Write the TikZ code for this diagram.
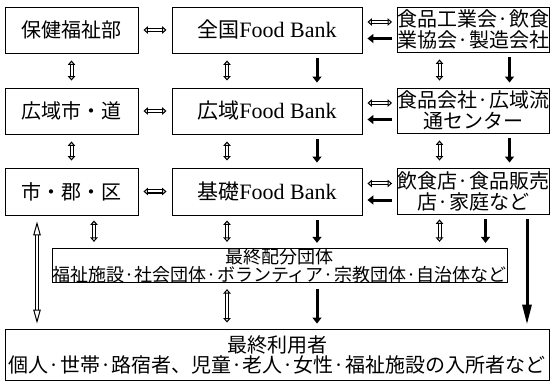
\documentclass[tikz,border=0pt]{standalone}
\usepackage{fontspec}
\setmainfont{Liberation Serif}
\newfontfamily\cjk{Noto Sans CJK JP}
\usetikzlibrary{arrows.meta,calc}
\tikzset{
  box/.style={draw, line width=0.9pt, inner sep=0pt, align=center,
    font=\cjk\fontsize{20}{21}\selectfont},
  fb/.style={font=\cjk\fontsize{21}{21}\selectfont},
  harrow/.style={double, double distance=2pt, line width=1pt,
    {Triangle[open,length=4.5pt,width=7.5pt,line width=1pt]}-{Triangle[open,length=4.5pt,width=7.5pt,line width=1pt]}},
  longharrow/.style={double, double distance=2pt, line width=1pt,
    {Triangle[open,length=14pt,width=7.5pt,line width=1pt]}-{Triangle[open,length=14pt,width=7.5pt,line width=1pt]}},
  barrow/.style={line width=3pt, -{Triangle[length=6pt,width=9pt]}},
  longbarrow/.style={line width=3pt, -{Triangle[length=20pt,width=9pt]}}
}
\begin{document}
\begin{tikzpicture}[x=1pt,y=-1pt]
\useasboundingbox (0,0) rectangle (551,382);
% row 1
\node[box, minimum width=133pt, minimum height=46pt] (hk) at (71.5,30) {保健福祉部};
\node[box, fb, minimum width=190pt, minimum height=46pt] (zk) at (267,30) {全国{\rmfamily\fontsize{22}{22}\selectfont Food Bank}};
\node[box, minimum width=152pt, minimum height=45pt] (sk) at (473.5,29.5) {食品工業会·飲食\\業協会·製造会社};
% row 2
\node[box, minimum width=133pt, minimum height=46pt] (ki) at (71.5,111) {広域市・道};
\node[box, fb, minimum width=190pt, minimum height=46pt] (kf) at (267,111) {広域{\rmfamily\fontsize{22}{22}\selectfont Food Bank}};
\node[box, minimum width=152pt, minimum height=45pt] (sr) at (473.5,110.5) {食品会社·広域流\\通センター};
% row 3
\node[box, minimum width=133pt, minimum height=47pt] (sg) at (71.5,191.5) {市・郡・区};
\node[box, fb, minimum width=190pt, minimum height=47pt] (bf) at (267,191.5) {基礎{\rmfamily\fontsize{22}{22}\selectfont Food Bank}};
\node[box, minimum width=152pt, minimum height=46pt] (is) at (473.5,191) {飲食店·食品販売\\店·家庭など};
% distribution
\node[box, minimum width=455pt, minimum height=33pt, font=\cjk\fontsize{18}{16.5}\selectfont] (hd) at (279.5,265.5) {最終配分団体\\福祉施設·社会団体·ボランティア·宗教団体·自治体など};
% final users
\node[box, minimum width=544pt, minimum height=51pt, font=\cjk\fontsize{20}{20}\selectfont] (ru) at (277,354.5) {最終利用者\\個人·世帯·路宿者、児童·老人·女性·福祉施設の入所者など};

% horizontal arrows left-middle
\draw[harrow, shorten <=5pt, shorten >=5pt] (hk) -- (zk);
\draw[harrow, shorten <=5pt, shorten >=5pt] (ki) -- (kf);
\draw[harrow, shorten <=5pt, shorten >=5pt] (sg) -- (bf);
% horizontal arrows middle-right
\draw[harrow, shorten <=5pt, shorten >=5pt] ([yshift=8pt]zk.east) -- ([yshift=8pt]zk.east -| sk.west);
\draw[barrow, shorten <=5pt, shorten >=5pt] ([yshift=-9pt]sk.west) -- ([yshift=-9pt]sk.west -| zk.east);
\draw[harrow, shorten <=5pt, shorten >=5pt] ([yshift=8pt]kf.east) -- ([yshift=8pt]kf.east -| sr.west);
\draw[barrow, shorten <=5pt, shorten >=5pt] ([yshift=-9pt]sr.west) -- ([yshift=-9pt]sr.west -| kf.east);
\draw[harrow, shorten <=5pt, shorten >=5pt] ([yshift=8pt]bf.east) -- ([yshift=8pt]bf.east -| is.west);
\draw[barrow, shorten <=5pt, shorten >=5pt] ([yshift=-9pt]is.west) -- ([yshift=-9pt]is.west -| bf.east);

% vertical arrows rows 1-2 and 2-3
\draw[harrow, shorten <=7pt, shorten >=7pt] (hk) -- (ki);
\draw[harrow, shorten <=7pt, shorten >=7pt] (ki) -- (sg);
\draw[harrow, shorten <=7pt, shorten >=7pt] ([xshift=-40pt]zk.south) -- ([xshift=-40pt]zk.south |- kf.north);
\draw[barrow, shorten <=5pt, shorten >=5pt] ([xshift=50pt]zk.south) -- ([xshift=50pt]zk.south |- kf.north);
\draw[harrow, shorten <=7pt, shorten >=7pt] ([xshift=-40pt]kf.south) -- ([xshift=-40pt]kf.south |- bf.north);
\draw[barrow, shorten <=5pt, shorten >=5pt] ([xshift=50pt]kf.south) -- ([xshift=50pt]kf.south |- bf.north);
\draw[harrow, shorten <=7pt, shorten >=7pt] ([xshift=-34pt]sk.south) -- ([xshift=-34pt]sk.south |- sr.north);
\draw[barrow, shorten <=5pt, shorten >=5pt] ([xshift=36pt]sk.south) -- ([xshift=36pt]sk.south |- sr.north);
\draw[harrow, shorten <=7pt, shorten >=7pt] ([xshift=-34pt]sr.south) -- ([xshift=-34pt]sr.south |- is.north);
\draw[barrow, shorten <=5pt, shorten >=5pt] ([xshift=36pt]sr.south) -- ([xshift=36pt]sr.south |- is.north);

% row 3 to distribution
\draw[harrow, shorten <=5pt, shorten >=6pt] ([xshift=22.5pt]sg.south) -- ([xshift=22.5pt]sg.south |- hd.north);
\draw[harrow, shorten <=5pt, shorten >=6pt] ([xshift=-40pt]bf.south) -- ([xshift=-40pt]bf.south |- hd.north);
\draw[barrow, shorten <=5pt, shorten >=5pt] ([xshift=50pt]bf.south) -- ([xshift=50pt]bf.south |- hd.north);
\draw[harrow, shorten <=5pt, shorten >=6pt] ([xshift=-34pt]is.south) -- ([xshift=-34pt]is.south |- hd.north);
\draw[barrow, shorten <=5pt, shorten >=5pt] ([xshift=12pt]is.south) -- ([xshift=12pt]is.south |- hd.north);

% long arrows
\draw[longharrow, shorten <=6pt, shorten >=5pt] ([xshift=-34.5pt]sg.south) -- ([xshift=-34.5pt]sg.south |- ru.north);
\draw[longbarrow, shorten <=5pt, shorten >=4pt] ([xshift=53.5pt]is.south) -- ([xshift=53.5pt]is.south |- ru.north);

% distribution to final
\draw[harrow, shorten <=6pt, shorten >=6pt] ([xshift=-52.5pt]hd.south) -- ([xshift=-52.5pt]hd.south |- ru.north);
\draw[barrow, shorten <=6pt, shorten >=5pt] ([xshift=37.5pt]hd.south) -- ([xshift=37.5pt]hd.south |- ru.north);
\end{tikzpicture}
\end{document}
